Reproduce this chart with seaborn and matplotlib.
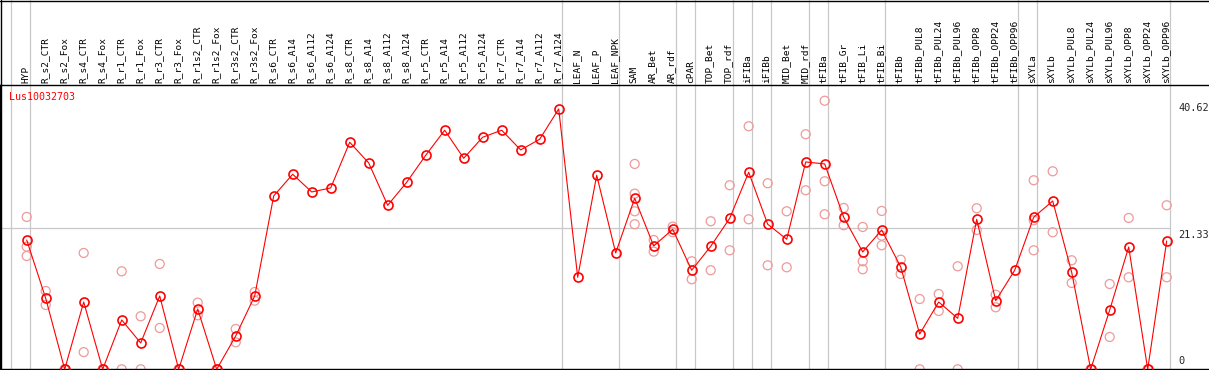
import matplotlib
matplotlib.use("Agg")
import matplotlib.pyplot as plt
import matplotlib.transforms as mtrans
import seaborn as sns
import pandas as pd

# expression profile for one gene
gene = "Lus10032703"

categories = [
    "HYP", "R_s2_CTR", "R_s2_Fox", "R_s4_CTR", "R_s4_Fox", "R_r1_CTR", "R_r1_Fox",
    "R_r3_CTR", "R_r3_Fox", "R_r1s2_CTR", "R_r1s2_Fox", "R_r3s2_CTR", "R_r3s2_Fox",
    "R_s6_CTR", "R_s6_A14", "R_s6_A112", "R_s6_A124", "R_s8_CTR", "R_s8_A14",
    "R_s8_A112", "R_s8_A124", "R_r5_CTR", "R_r5_A14", "R_r5_A112", "R_r5_A124",
    "R_r7_CTR", "R_r7_A14", "R_r7_A112", "R_r7_A124", "LEAF_N", "LEAF_P", "LEAF_NPK",
    "SAM", "AR_Bet", "AR_rdf", "cPAR", "TOP_Bet", "TOP_rdf", "iFIBa", "iFIBb",
    "MID_Bet", "MID_rdf", "tFIBa", "tFIB_Gr", "tFIB_Li", "tFIB_Bi", "tFIBb",
    "tFIBb_PUL8", "tFIBb_PUL24", "tFIBb_PUL96", "tFIBb_OPP8", "tFIBb_OPP24",
    "tFIBb_OPP96", "sXYLa", "sXYLb", "sXYLb_PUL8", "sXYLb_PUL24", "sXYLb_PUL96",
    "sXYLb_OPP8", "sXYLb_OPP24", "sXYLb_OPP96",
]

means = [
    19.56, 10.74, 0, 10.18, 0, 7.46, 3.98, 11.09, 0, 9.12, 0, 5.04, 11.09,
    26.22, 29.5, 26.82, 27.43, 34.34, 31.21, 24.8, 28.29, 32.37, 36.16, 31.92, 35.1,
    36.16, 33.18, 34.8, 39.38, 13.92, 29.35, 17.6,
    25.87, 18.65, 21.18, 14.98, 18.6, 22.84, 29.8, 21.94, 19.67, 31.36, 31.06,
    23.0, 17.75, 21.07, 15.48, 5.34, 10.18, 7.71, 22.69, 10.38, 14.98,
    23.0, 25.46, 14.67, 0, 8.97, 18.5, 0, 19.41,
]

replicates = [
    [23.04, 18.55, 17.14], [11.85, 9.73], [0, 0], [17.6, 2.6], [0, 0],
    [14.82, 0], [8.02, 0], [15.93, 6.25], [0, 0], [10.08, 8.17], [0, 0],
    [6.1, 4.08], [11.69, 10.38],
    [], [], [], [], [], [], [], [], [], [], [], [], [], [], [], [], [], [], [],
    [31.06, 26.57, 23.9, 21.94], [19.56, 17.8], [21.58, 20.73], [16.34, 13.62],
    [22.39, 14.98], [27.84, 18.0], [36.76, 22.69], [28.14, 15.73], [23.9, 15.43],
    [35.55, 27.08], [40.62, 28.44, 23.45], [24.4, 21.79], [21.53, 16.34, 15.13],
    [23.95, 20.21, 18.76], [16.58, 14.42], [10.63, 0], [11.39, 8.82], [15.58, 0],
    [24.36, 21.07], [11.29, 9.38], [], [28.59, 22.54, 18.0], [29.95, 20.73],
    [16.49, 13.06], [0, 0], [12.9, 4.89], [22.89, 13.92], [0, 0], [24.81, 13.92],
]

# last sample of each group (a grey separator follows it)
group_ends = ["HYP", "R_r7_A124", "LEAF_NPK", "AR_rdf", "cPAR", "TOP_rdf", "iFIBa",
              "iFIBb", "MID_rdf", "tFIBa", "tFIB_Bi", "tFIBb_OPP96", "sXYLa",
              "sXYLb_OPP96"]

y_ticks = [0, 21.33, 40.62]

df = pd.DataFrame({"idx": range(len(categories)), "sample": categories, "mean": means})
rep_rows = [(i, v) for i, reps in enumerate(replicates) for v in reps]
rep_df = pd.DataFrame(rep_rows, columns=["idx", "value"])

sns.set_style("white")
plt.rcParams["font.family"] = ["DejaVu Sans Mono", "DejaVu Sans"]

W, H = 1209, 370
fig = plt.figure(figsize=(W / 100, H / 100), dpi=100)
header_px = 85
ax = fig.add_axes([0, 0.7 / H, 1, (H - header_px - 0.7) / H])

grey = "#c8c8c8"
rep_color = "#ee9a9a"

sns.scatterplot(data=rep_df, x="idx", y="value", ax=ax, marker="o", s=42,
                facecolor="none", edgecolor=rep_color, linewidth=0.9, zorder=2,
                legend=False)
sns.lineplot(data=df, x="idx", y="mean", ax=ax, color="red", linewidth=0.8,
             marker="o", markersize=6.5, markerfacecolor="none",
             markeredgecolor="red", markeredgewidth=1.2, zorder=3, legend=False)

x0 = -26.7 / 19
ax.set_xlim(x0, x0 + W / 19)
ax.set_ylim(0, 43.0)
ax.set_xticks([])
ax.set_yticks([])
ax.set_xlabel("")
ax.set_ylabel("")

for side in ["left", "bottom", "top"]:
    ax.spines[side].set_color("black")
    ax.spines[side].set_linewidth(1.0)
ax.spines["right"].set_visible(False)

# horizontal grid at the mid tick
right_frac = (1170 - 0) / W
ax.axhline(y_ticks[1], xmin=0, xmax=right_frac, color=grey, linewidth=0.9, zorder=1)

# vertical group separators through header and plot
blend = mtrans.blended_transform_factory(ax.transData, fig.transFigure)
sep_x = [-1] + [categories.index(c) for c in group_ends]
for s in sep_x:
    ax.plot([s + 0.18, s + 0.18], [0, 1], transform=blend, color=grey,
            linewidth=0.9, clip_on=False, zorder=1)

# figure borders
fig.add_artist(plt.Line2D([0, 1], [1 - 0.5 / H, 1 - 0.5 / H], transform=fig.transFigure,
                          color="black", linewidth=1.0))
fig.add_artist(plt.Line2D([0.5 / W, 0.5 / W], [0, 1], transform=fig.transFigure,
                          color="black", linewidth=1.0))

# rotated sample labels in header
label_y = 1 - 83 / H
for i, name in enumerate(categories):
    ax.text(i - 0.05, label_y, name, transform=blend, rotation=90,
            ha="center", va="bottom", fontsize=6.8, color="black")

# gene name
fig.text(9 / W, 1 - 97 / H, gene, color="red", fontsize=7.2, va="center", ha="left")

# value labels on the right
ylab_x = 1178 / W
ytrans = mtrans.blended_transform_factory(fig.transFigure, ax.transData)
for v in y_ticks:
    lbl = f"{v:g}" if v == 0 else f"{v:.2f}"
    if v == 0:
        ax.text(ylab_x, 0.5, lbl, transform=ytrans, fontsize=7.4, va="bottom", ha="left")
    else:
        ax.text(ylab_x, v - 0.3, lbl, transform=ytrans, fontsize=7.4, va="top", ha="left")

fig.savefig("out.png", dpi=100)
